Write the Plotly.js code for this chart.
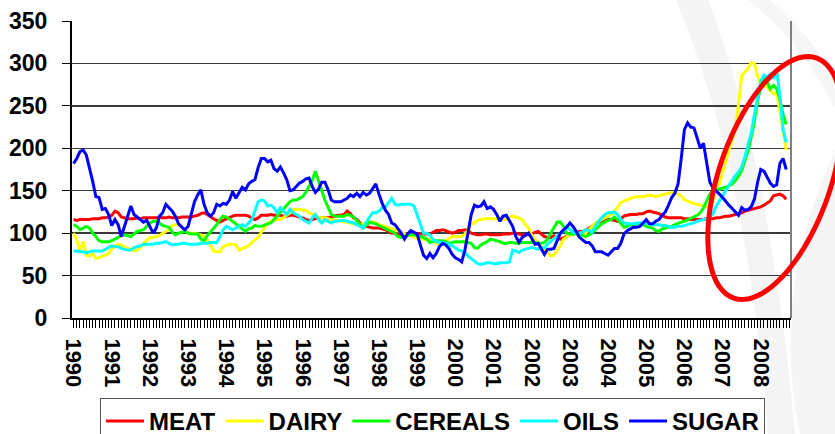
<!DOCTYPE html>
<html>
<head>
<meta charset="utf-8">
<script src="https://cdn.plot.ly/plotly-3.0.1.min.js"></script>
<style>html,body{margin:0;padding:0;background:#fff;}#chart{width:835px;height:434px;}</style>
</head>
<body>
<div id="chart"></div>
<script>
// Year tick labels (first month of each year)
const years = ['1990','1991','1992','1993','1994','1995','1996','1997','1998','1999','2000','2001','2002','2003','2004','2005','2006','2007','2008'];
const seriesNames = ['MEAT','DAIRY','CEREALS','OILS','SUGAR'];

// Monthly index values, Jan 1990 onwards
const meat = [
116,115,116,116,116,116,117,117,117,118,118,119,
121,126,124,119,118,117,117,117,118,117,118,118,
118,118,118,119,118,118,119,118,118,118,119,119,
119,119,120,121,123,124,122,119,117,115,113,115,
117,119,120,121,121,121,121,120,118,116,118,121,
121,121,122,121,121,121,120,120,121,121,120,119,
118,116,115,116,117,118,118,118,118,119,120,121,
121,122,126,123,118,116,112,109,108,107,106,106,
106,105,104,102,100,100,99,98,98,98,98,99,
99,99,99,99,99,101,103,103,104,103,101,100,
101,103,103,104,103,100,99,98,98,99,99,98,
98,98,98,99,99,99,100,100,99,98,98,98,
99,101,102,99,96,95,95,97,94,93,95,96,
98,99,101,102,102,103,105,108,111,113,115,115,
116,116,115,114,117,120,121,122,122,122,123,123,
125,126,125,124,123,121,119,118,118,118,118,118,
117,117,116,116,116,116,116,117,117,117,118,118,
119,120,120,121,122,123,124,126,127,128,129,130,
131,133,135,138,144,145,146,144,140];

const dairy = [
100,92,80,90,74,73,76,70,71,73,74,76,
81,85,87,86,84,82,81,79,80,83,88,92,
95,95,96,97,100,102,105,109,110,110,107,104,
100,100,100,99,98,96,92,86,79,78,78,84,
86,87,87,86,80,82,84,85,89,92,95,101,
106,112,114,115,116,116,118,121,124,128,128,128,
127,127,124,122,120,119,118,118,117,116,115,115,
114,113,113,112,111,110,110,111,112,113,113,112,
110,109,108,106,105,104,103,101,99,98,97,95,
94,93,93,92,93,90,88,87,88,91,94,96,
96,96,96,99,103,110,113,115,116,117,117,117,
117,117,117,116,116,119,120,119,118,116,110,106,
98,93,89,85,81,77,73,74,79,85,93,96,
98,99,100,99,98,100,104,108,112,114,116,118,
120,122,125,130,136,138,139,141,142,143,143,143,
144,145,144,143,144,145,146,147,148,148,146,144,
139,138,136,135,134,133,132,131,130,138,154,158,
172,185,198,210,222,252,285,290,294,301,300,285,
276,274,272,268,264,266,244,225,198];

const cereals = [
110,108,104,106,108,106,100,96,91,90,90,90,
91,93,95,97,98,97,96,99,102,103,104,108,
112,114,114,112,109,108,107,101,98,100,101,102,
100,99,99,99,93,91,97,101,105,110,116,120,
119,117,114,111,108,105,102,105,106,109,108,108,
110,111,112,116,120,124,128,132,137,139,139,141,
143,148,155,162,173,160,150,139,130,122,120,120,
120,120,122,121,119,115,110,106,109,113,112,111,
109,107,105,103,102,100,96,95,96,97,98,98,
97,96,95,93,89,90,91,91,91,90,88,89,
90,90,90,90,89,88,83,82,86,88,90,93,
92,91,90,88,88,89,89,88,88,89,89,89,
89,89,88,88,89,93,100,106,113,113,108,100,
99,99,99,99,97,96,98,100,104,108,111,113,
115,116,119,116,112,107,108,110,110,111,111,110,
108,107,106,103,102,105,106,107,108,110,112,113,
114,116,118,120,121,124,130,138,146,150,151,152,
153,154,156,158,162,167,174,185,197,213,232,256,
272,283,278,270,274,270,258,240,228];

const oils = [
79,79,78,78,77,78,79,79,79,79,81,83,
85,84,84,82,81,80,80,83,84,85,87,87,
87,87,88,88,89,90,88,86,87,87,88,88,
87,87,87,87,88,88,88,89,89,89,96,104,
108,106,104,106,108,110,108,112,116,126,137,139,
138,132,133,130,124,130,126,122,128,124,122,120,
116,114,112,118,122,116,112,116,114,112,114,114,
115,115,114,113,112,110,108,106,113,118,124,124,
126,130,131,136,141,134,133,134,134,134,134,132,
122,110,100,100,98,92,90,89,89,88,87,85,
82,80,79,77,73,70,68,64,63,64,65,65,
64,64,65,65,65,66,80,79,77,80,81,82,
83,82,81,82,83,87,90,94,96,100,103,108,
104,101,100,100,101,104,103,101,108,114,118,122,
124,124,125,122,116,112,111,111,111,112,112,112,
112,111,110,110,110,109,109,108,107,107,108,108,
109,110,111,112,114,115,116,117,119,123,132,138,
144,150,156,162,168,172,178,190,205,218,240,262,
279,286,284,287,282,292,262,222,207];

const sugar = [
182,188,196,198,192,177,161,143,142,128,129,122,
109,116,110,96,108,118,132,122,119,117,113,115,
108,100,106,120,124,134,130,126,120,111,107,104,
108,122,137,145,151,134,124,120,124,134,132,135,
134,139,149,141,147,154,151,158,161,163,177,188,
188,184,186,176,173,178,171,163,150,151,155,159,
161,164,165,155,148,152,160,160,151,139,137,137,
137,139,141,145,143,147,143,148,145,147,152,158,
146,135,127,122,112,110,105,100,93,99,103,101,
99,86,74,70,76,71,76,84,88,86,82,75,
71,69,66,80,100,122,133,131,132,137,129,131,
128,122,114,120,121,114,108,96,89,95,98,100,
94,87,88,82,75,81,81,82,91,100,104,107,
112,108,102,95,92,89,89,85,78,78,78,76,
74,78,82,82,88,99,103,105,107,107,108,112,
116,111,111,114,116,121,125,133,142,147,158,188,
222,230,225,224,213,200,206,185,160,153,150,146,
142,137,133,129,125,121,130,127,128,131,140,160,
175,173,166,159,155,157,182,188,175];

const seriesData = [meat, dairy, cereals, oils, sugar];
const seriesColors = ['#ff0000','#ffff00','#00ff00','#00ffff','#0000ff'];
const nCategories = 226;

const traces = seriesData.map((vals, k) => ({
  type: 'scatter', mode: 'lines',
  name: seriesNames[k],
  x: vals.map((_, i) => i),
  y: vals,
  line: {color: seriesColors[k], width: 3},
  hoverinfo: 'skip'
}));

// pixel -> paper helpers for decorations
const PL = 72, PR = 791, PT = 21, PB = 318;
const fx = p => (p - PL) / (PR - PL);
const fy = p => (PB - p) / (PB - PT);

// rotated highlight ellipse
function ellipsePath(cx, cy, a, b, deg) {
  const th = deg * Math.PI / 180;
  let d = '';
  for (let s = 0; s <= 96; s++) {
    const t = s / 96 * 2 * Math.PI;
    const dx = a * Math.cos(th) * Math.cos(t) - b * Math.sin(th) * Math.sin(t);
    const dy = a * Math.sin(th) * Math.cos(t) + b * Math.cos(th) * Math.sin(t);
    d += (s === 0 ? 'M' : 'L') + fx(cx + dx).toFixed(5) + ',' + fy(cy - dy).toFixed(5);
  }
  return d + 'Z';
}
function pathPx(cmds) {
  return cmds.map(c => c[0] + c.slice(1).map((v, j) => (j % 2 === 0 ? fx(v) : fy(v)).toFixed(5)).join(',')).join(' ');
}

const boldFont = {family: 'Liberation Sans, Arial, sans-serif', weight: 'bold', color: '#000'};

const layout = {
  width: 835, height: 434,
  margin: {l: PL, r: 835 - PR, t: PT, b: 434 - PB, autoexpand: false},
  paper_bgcolor: '#ffffff',
  plot_bgcolor: 'rgba(0,0,0,0)',
  showlegend: true,
  font: Object.assign({size: 22}, boldFont),
  xaxis: {
    range: [-0.5, nCategories - 0.5],
    tickmode: 'array',
    tickvals: years.map((_, k) => k * 12),
    ticktext: years,
    tickangle: 90,
    ticks: 'outside', ticklen: 8, tickwidth: 1, tickcolor: '#000',
    tickfont: Object.assign({size: 22}, boldFont),
    ticklabelstandoff: 6,
    minor: {ticks: 'outside', ticklen: 8, tickwidth: 1, tickcolor: '#000', tickmode: 'linear', tick0: 0, dtick: 1, showgrid: false},
    showgrid: false, zeroline: false,
    showline: true, linecolor: '#000', linewidth: 2,
    fixedrange: true
  },
  yaxis: {
    range: [0, 350], dtick: 50, tick0: 0,
    ticks: 'outside', ticklen: 8, tickwidth: 1, tickcolor: '#000',
    tickfont: Object.assign({size: 23}, boldFont),
    ticklabelstandoff: 10,
    showgrid: true, gridcolor: '#3a3a3a', gridwidth: 1.5,
    zeroline: false,
    showline: true, linecolor: '#000', linewidth: 2,
    fixedrange: true
  },
  legend: {
    orientation: 'h',
    x: fx(100), xanchor: 'left',
    y: fy(398), yanchor: 'top',
    bgcolor: '#ffffff', bordercolor: '#555', borderwidth: 1,
    font: Object.assign({size: 24}, boldFont),
    itemwidth: 38, traceorder: 'normal'
  },
  shapes: [
    // faint background swooshes
    {type: 'path', xref: 'paper', yref: 'paper', layer: 'below', line: {width: 0}, fillcolor: '#f4f4f4',
     path: pathPx([['M',676,0],['L',708,0],['Q',770,160,795,434],['L',768,434],['Q',748,170,676,0]]) + ' Z'},
    {type: 'path', xref: 'paper', yref: 'paper', layer: 'below', line: {width: 0}, fillcolor: '#f5f5f5',
     path: pathPx([['M',835,150],['Q',770,290,800,434],['L',835,434]]) + ' Z'},
    {type: 'path', xref: 'paper', yref: 'paper', layer: 'below', line: {width: 0}, fillcolor: '#f6f6f6',
     path: pathPx([['M',748,0],['L',770,0],['Q',815,40,835,80],['L',835,110],['Q',805,45,748,0]]) + ' Z'},
    // right border of plot area
    {type: 'line', xref: 'paper', yref: 'paper', x0: 1, x1: 1, y0: 0, y1: 1, line: {color: '#808080', width: 2}},
    // red highlight ellipse
    {type: 'path', xref: 'paper', yref: 'paper', layer: 'above', line: {color: '#ff0000', width: 5},
     path: ellipsePath(775, 178, 127, 56, 71)}
  ]
};

Plotly.newPlot('chart', traces, layout, {staticPlot: true, displayModeBar: false});
</script>
</body>
</html>
